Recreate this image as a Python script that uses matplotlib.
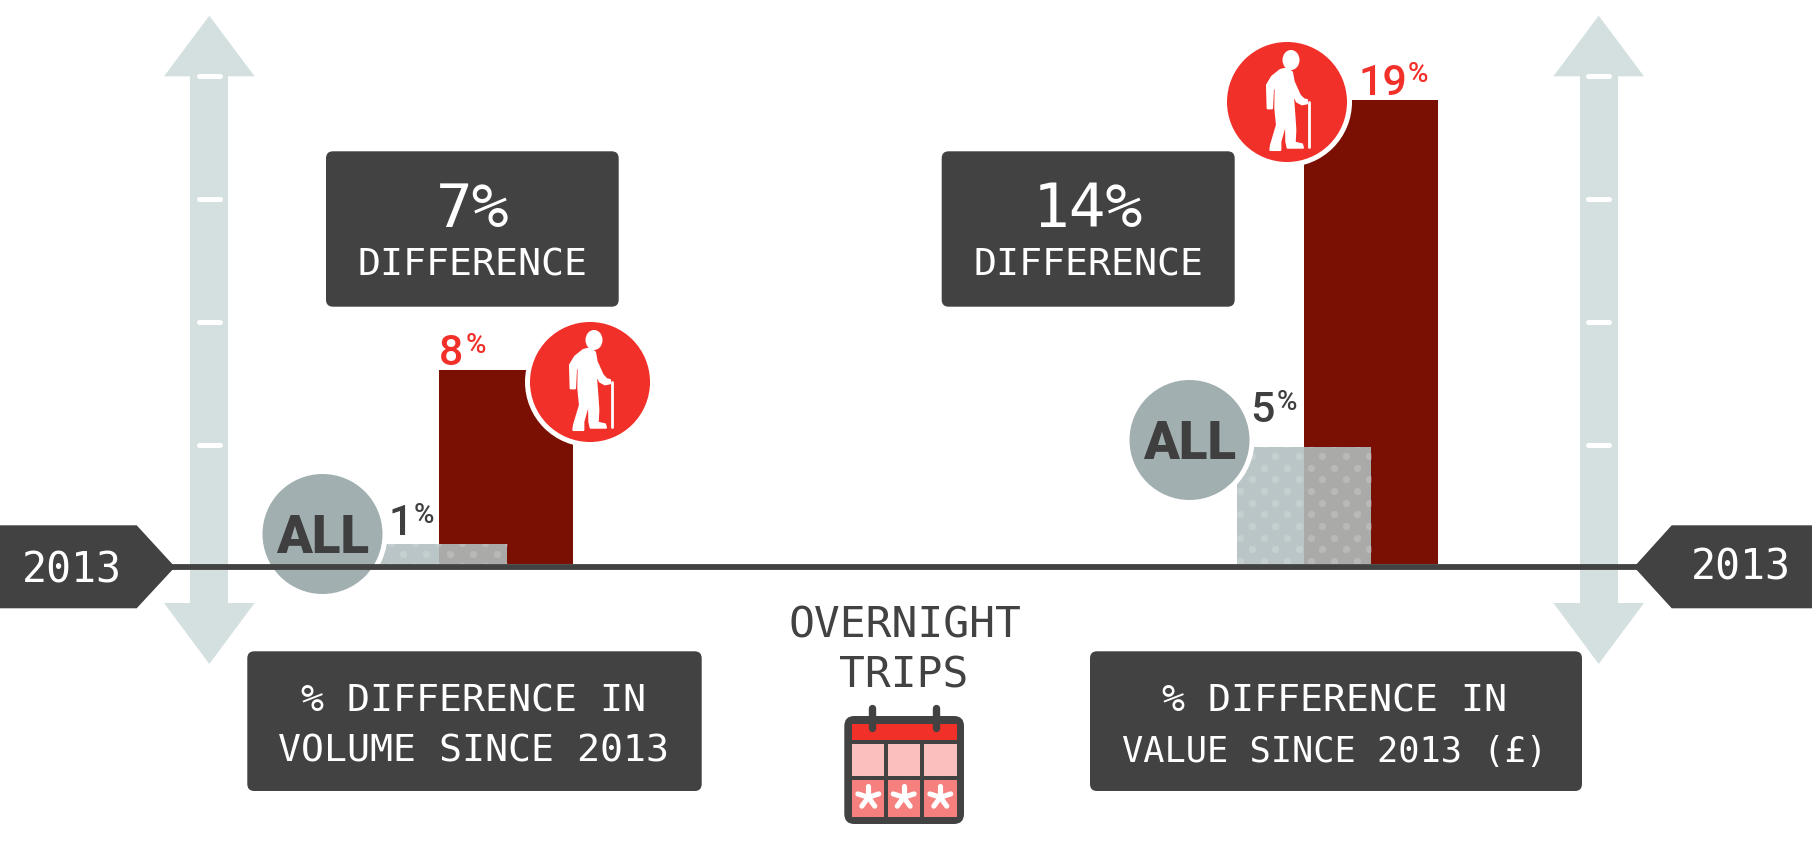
import matplotlib
matplotlib.use('Agg')
import matplotlib.pyplot as plt
import numpy as np
from matplotlib.patches import Circle, Ellipse, FancyBboxPatch, Polygon, Rectangle

# Values (bar heights sit a little under the printed round numbers)
groups = ['volume', 'value']
all_values = [0.8, 4.8]
older_values = [7.95, 19]
differences = ['7%', '14%']
box_titles = [['% DIFFERENCE IN', 'VOLUME SINCE 2013'], ['% DIFFERENCE IN', 'VALUE SINCE 2013 (£)']]
center_title = ['OVERNIGHT', 'TRIPS']
year_label = '2013'
all_label = 'ALL'

# Colours
DARK = '#424242'
RED = '#f1302a'
MAROON = '#7a1003'
GREY = '#a1afb0'
LIGHT_BAR = '#b1bebf'
ARROW = '#d4e0e0'

NARROW = ['DejaVu Sans Mono']
LABEL = ['Roboto', 'DejaVu Sans']

W, H = 1820, 842
BASE_Y = 564
PX_PER_PCT = 24.4

fig = plt.figure(figsize=(W / 100, H / 100), dpi=100)
fig.patch.set_facecolor('white')


def pixel_axes(z):
    a = fig.add_axes([0, 0, 1, 1], zorder=z)
    a.set_xlim(0, W)
    a.set_ylim(H, 0)
    a.axis('off')
    return a


back = pixel_axes(0)
front = pixel_axes(2)

# Bars live on their own axes, y in percent with 0 on the baseline
bars = fig.add_axes([0, 0, 1, 1], zorder=1)
bars.set_xlim(0, W)
bars.set_ylim(-(H - BASE_Y) / PX_PER_PCT, BASE_Y / PX_PER_PCT)
bars.axis('off')


def round_box(a, x0, y0, x1, y1, r=7, color=DARK, z=2):
    a.add_patch(FancyBboxPatch((x0, y0), x1 - x0, y1 - y0, boxstyle=f'round,pad=0,rounding_size={r}',
                               fc=color, ec='none', zorder=z))


def narrow_text(x, y, s, size, color='white', ha='center'):
    front.text(x, y, s, fontsize=size, color=color, ha=ha, va='baseline', family=NARROW, zorder=8)


# Up/down arrows with the white tick marks
def scale_arrow(cx):
    back.add_patch(Rectangle((cx - 19, 76), 38, 527, fc=ARROW, ec='none'))
    back.add_patch(Polygon([(cx, 15.7), (cx + 45.3, 76.3), (cx - 45.3, 76.3)], fc=ARROW, ec='none'))
    back.add_patch(Polygon([(cx, 664), (cx + 45.3, 603), (cx - 45.3, 603)], fc=ARROW, ec='none'))
    for ty in [76, 199, 322, 445]:
        back.plot([cx - 10.5, cx + 10.5], [ty, ty], color='white', lw=3.6, solid_capstyle='round')


scale_arrow(209.3)
scale_arrow(1598.7)

# Bars
older_x = [506, 1371]
all_x = [440, 1304]
bar_w = 134
bars.bar(older_x, older_values, width=bar_w, color=MAROON, linewidth=0, zorder=1)
all_bars = bars.bar(all_x, all_values, width=bar_w, color=LIGHT_BAR, alpha=0.89, linewidth=0, zorder=2)

# Dot pattern on the light bars
for rect, first_y, first_x, n_rows in zip(all_bars, [542.6, 444.3], [391.4, 1263.7], [3, 11]):
    xs, ys = [], []
    for k in range(n_rows):
        y = first_y + k * 11.67
        off = 0 if k % 2 == 0 else 11.7
        for j in range(-1, 7):
            xs.append(first_x + off + j * 23.4)
            ys.append(y)
    dots = front.scatter(xs, ys, s=27, color='white', alpha=0.18, linewidths=0, zorder=1)
    dots.set_clip_path(rect)


# Circles with the white ring
def badge(cx, cy, color):
    front.add_patch(Circle((cx, cy), 65, fc='white', ec='none', zorder=2))
    front.add_patch(Circle((cx, cy), 60, fc=color, ec='none', zorder=3))


all_centers = [(322.5, 534), (1189.5, 440)]
older_centers = [(590, 382), (1287, 102)]
for cx, cy in all_centers:
    badge(cx, cy, GREY)
    front.text(cx, cy + 19.3, all_label, fontsize=38, fontweight='black', color='#3f3f3f', ha='center',
               va='baseline', family=LABEL, zorder=6)

# Walking figure, outline taken in a 3x crop around the circle centre
body = np.array([(100, 75), (120, 70), (135, 82), (140, 110), (158, 150), (170, 163), (180, 165), (180, 175),
                 (165, 178), (150, 170), (137, 145), (142, 210), (145, 255), (143, 293), (165, 298), (168, 308),
                 (122, 308), (118, 290), (117, 230), (100, 290), (100, 315), (70, 315), (72, 300), (90, 240),
                 (85, 190), (86, 130), (78, 130), (75, 190), (62, 190), (60, 120), (75, 95)], dtype=float)
body = (body - [120, 171]) / 3
for cx, cy in older_centers:
    badge(cx, cy, RED)
    front.add_patch(Polygon(body + [cx, cy], fc='white', ec='white', lw=1.5, joinstyle='round', zorder=6))
    front.add_patch(Ellipse((cx + 4, cy - 42), 17, 20, fc='white', ec='none', zorder=6))
    front.plot([cx + 21.5, cx + 21.5], [cy - 0.5, cy + 45], color='white', lw=2, solid_capstyle='round', zorder=6)

# Baseline and year tags
front.plot([170, 1640], [567, 567], color=DARK, lw=4.2, solid_capstyle='butt', zorder=5)
front.add_patch(Polygon([(0, 525.3), (136.7, 525.3), (175, 567), (136.7, 608.3), (0, 608.3)], fc=DARK, ec='none', zorder=6))
front.add_patch(Polygon([(1812, 525.3), (1671.7, 525.3), (1634, 567), (1671.7, 608.3), (1812, 608.3)], fc=DARK, ec='none', zorder=6))
narrow_text(72, 582.7, year_label, 30)
narrow_text(1741, 580, year_label, 30)

# Value labels: number plus a small raised percent sign
num_pos = [(439, 365), (1358, 95)]
pct_pos = [(466, 352.7), (1407.5, 81.7)]
for v, (x, y), (px, py) in zip(older_values, num_pos, pct_pos):
    front.text(x, y, f'{v:.0f}', fontsize=31, fontweight='medium', color=RED, ha='left', va='baseline', family=LABEL, zorder=8)
    front.text(px, py, '%', fontsize=20, fontweight='medium', color=RED, ha='left', va='baseline', family=LABEL, zorder=8)
num_pos = [(389, 535), (1250, 422)]
pct_pos = [(414, 522.7), (1276.7, 410)]
for v, (x, y), (px, py) in zip(all_values, num_pos, pct_pos):
    front.text(x, y, f'{v:.0f}', fontsize=31, fontweight='medium', color='#3f3f3f', ha='left', va='baseline', family=LABEL, zorder=8)
    front.text(px, py, '%', fontsize=20, fontweight='medium', color='#3f3f3f', ha='left', va='baseline', family=LABEL, zorder=8)

# Difference boxes
diff_boxes = [(326, 618.7), (941.7, 1234.7)]
for (x0, x1), d in zip(diff_boxes, differences):
    round_box(front, x0, 151.3, x1, 306.7)
    narrow_text((x0 + x1) / 2, 227, d, 44)
    narrow_text((x0 + x1) / 2, 275, 'DIFFERENCE', 27.5)

# Bottom boxes
title_boxes = [(247.3, 701.7), (1090, 1582)]
title_cx = [473.5, 1334.5]
title_sizes = [27.5, 25.5]
for (x0, x1), cx, lines, size in zip(title_boxes, title_cx, box_titles, title_sizes):
    round_box(front, x0, 651.3, x1, 791)
    narrow_text(cx, 711, lines[0], 27.5)
    narrow_text(cx, 762, lines[1], size)

# Centre title and calendar
narrow_text(905, 638, center_title[0], 31, color=DARK)
narrow_text(903.5, 688, center_title[1], 31, color=DARK)

round_box(front, 844.3, 716, 964, 824, r=10)
col_edges = [(852, 884), (888.3, 920.3), (924.3, 956.7)]
front.add_patch(Rectangle((852, 724), 104.7, 16, fc=RED, ec='none', zorder=3))
for x0, x1 in col_edges:
    front.add_patch(Rectangle((x0, 744), x1 - x0, 32, fc='#fbbfbe', ec='none', zorder=3))
    front.add_patch(Rectangle((x0, 780.3), x1 - x0, 36.4, fc='#f6807d', ec='none', zorder=3))
for px in [872.3, 936.3]:
    front.plot([px, px], [707.5, 728], color=DARK, lw=5.3, solid_capstyle='round', zorder=4)
for sx in [868.3, 903.7, 940.3]:
    for ang in np.deg2rad([90, 162, 234, 306, 18]):
        front.plot([sx, sx + 11 * np.cos(ang)], [797.3, 797.3 - 11 * np.sin(ang)], color='white', lw=3.7,
                   solid_capstyle='round', zorder=4)

fig.savefig('out.png', dpi=100, facecolor='white')
